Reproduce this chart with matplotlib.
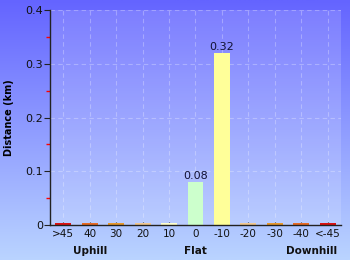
import numpy as np
import matplotlib.pyplot as plt
from matplotlib.colors import LinearSegmentedColormap

categories = ['>45', '40', '30', '20', '10', '0', '-10', '-20', '-30', '-40', '<-45']
distance = [0.004, 0.004, 0.004, 0.004, 0.004, 0.08, 0.32, 0.004, 0.004, 0.004, 0.004]
bar_colors = ['#dd1111', '#e86a22', '#e8982a', '#f2c890', '#ffffcc', '#ccffcc',
              '#ffff99', '#f2c890', '#e8982a', '#e86a22', '#dd1111']
labelled = [0.08, 0.32]
groups = ['Uphill', 'Flat', 'Downhill']
group_x = [1, 5, 9.4]

fig = plt.figure(figsize=(3.5, 2.6), dpi=100)

# gradient background
bg = fig.add_axes([0, 0, 1, 1], zorder=-1)
grad = LinearSegmentedColormap.from_list('bg', ['#6464ff', '#bad4ff'])
bg.imshow(np.linspace(0, 1, 256).reshape(-1, 1), aspect='auto', cmap=grad,
          extent=[0, 1, 0, 1], origin='upper')
bg.axis('off')

ax = fig.add_axes([50 / 350, 35 / 260, 291 / 350, 215 / 260])
ax.set_facecolor((1, 1, 1, 0.15))
x = np.arange(len(categories))
ax.bar(x, distance, width=0.6, color=bar_colors, zorder=3)
for xi, v in zip(x, distance):
    if v in labelled:
        ax.text(xi, v + 0.001, f'{v:.2f}', ha='center', va='bottom',
                fontsize=8, color='#111133', zorder=4)

ax.set_xlim(-0.5, len(categories) - 0.5)
ax.set_ylim(0, 0.4)
ax.set_yticks([0, 0.1, 0.2, 0.3, 0.4])
ax.set_yticklabels(['0', '0.1', '0.2', '0.3', '0.4'])
ax.set_yticks([0.05, 0.15, 0.25, 0.35], minor=True)
ax.tick_params(axis='y', which='major', length=4, labelsize=8, pad=1,
               color='#222222', labelcolor='#111111')
ax.tick_params(axis='y', which='minor', length=3, color='red', width=1)
ax.set_xticks(x)
ax.set_xticklabels(categories)
ax.tick_params(axis='x', direction='in', length=2, labelsize=7.5, pad=3,
               color='#222222', labelcolor='#111111')

ax.grid(True, color='white', alpha=0.28, linestyle=(0, (4, 3)), linewidth=0.8, zorder=1)
ax.set_axisbelow(True)
for s in ['top', 'right']:
    ax.spines[s].set_visible(False)
for s in ['left', 'bottom']:
    ax.spines[s].set_color('#222222')
    ax.spines[s].set_linewidth(1)
    ax.spines[s].set_zorder(5)

ax.set_ylabel('Distance (km)', fontsize=7, fontweight='bold', labelpad=8)
for g, gx in zip(groups, group_x):
    ax.text(gx, -0.048, g, ha='center', va='center', fontsize=7.5,
            fontweight='bold', color='#111111', transform=ax.transData, clip_on=False)

fig.savefig('out.png', dpi=100)
